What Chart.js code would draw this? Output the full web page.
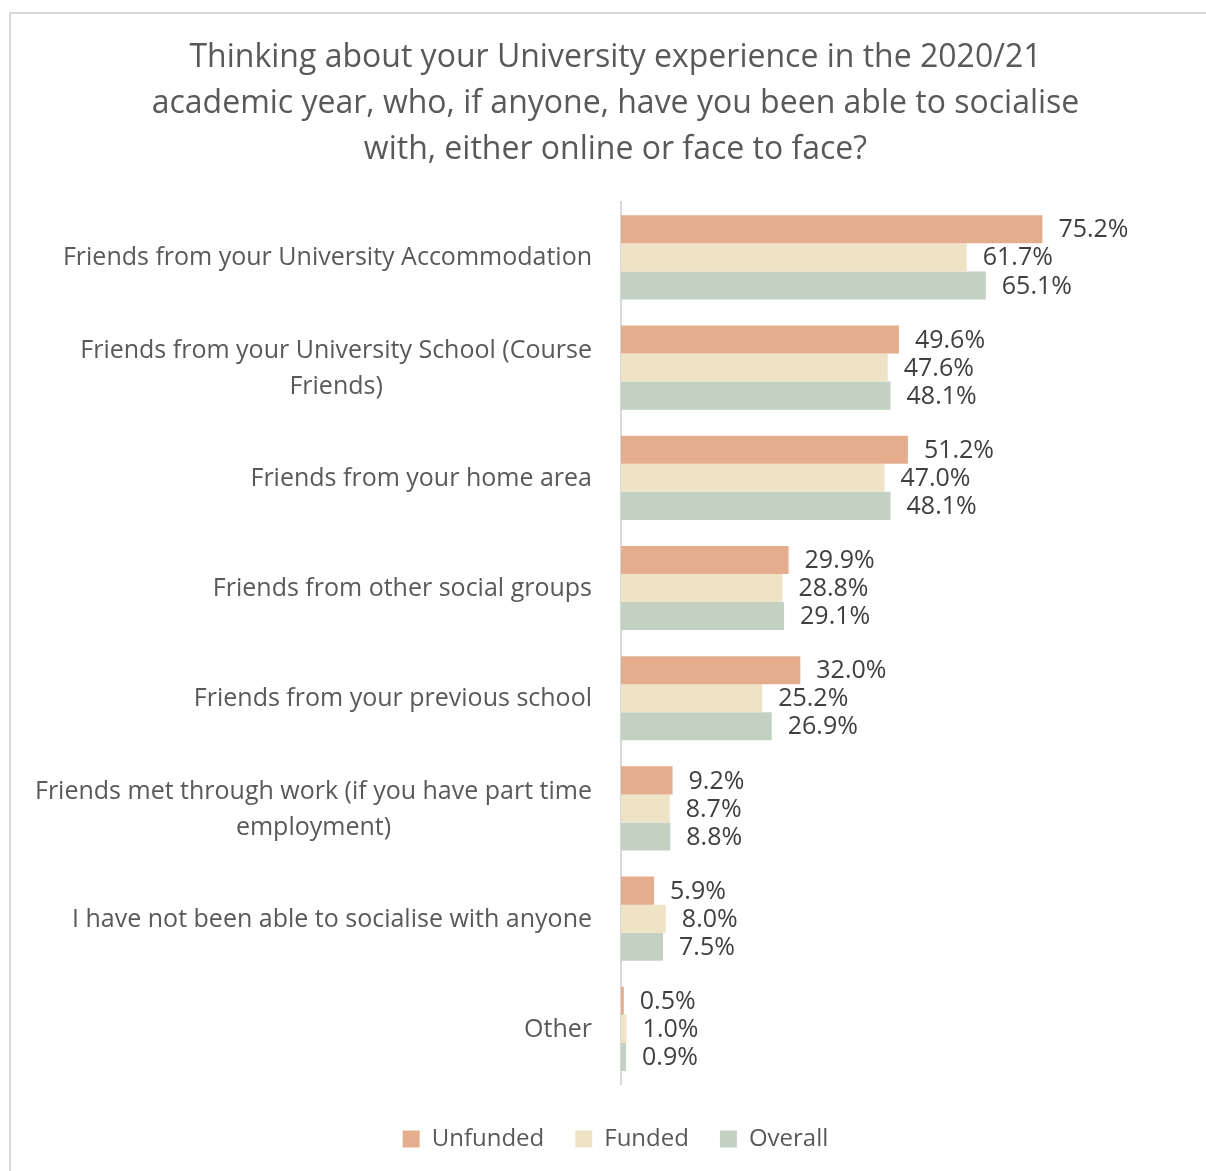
<!DOCTYPE html>
<html>
<head>
<meta charset="utf-8">
<script src="https://cdn.jsdelivr.net/npm/chart.js@4.4.0/dist/chart.umd.min.js"></script>
<style>
  html, body { margin: 0; padding: 0; background: #fff; }
  #frame {
    position: absolute; left: 9px; top: 12px; width: 1220px; height: 1200px;
    border: 2px solid #d9d9d9; box-sizing: border-box;
  }
  #wrap { position: absolute; left: 0; top: 0; width: 1206px; height: 1171px; }
</style>
</head>
<body>
<div id="frame"></div>
<div id="wrap"><canvas id="my-chart"></canvas></div>
<script>
// categories and series
const categories = [
  ["Friends from your University Accommodation"],
  ["Friends from your University School (Course", "Friends)"],
  ["Friends from your home area"],
  ["Friends from other social groups"],
  ["Friends from your previous school"],
  ["Friends met through work (if you have part time", "employment)"],
  ["I have not been able to socialise with anyone"],
  ["Other"],
];
const unfunded = [75.2, 49.6, 51.2, 29.9, 32.0, 9.2, 5.9, 0.5];
const funded = [61.7, 47.6, 47.0, 28.8, 25.2, 8.7, 8.0, 1.0];
const overall = [65.1, 48.1, 48.1, 29.1, 26.9, 8.8, 7.5, 0.9];
const seriesNames = ["Unfunded", "Funded", "Overall"];
const titleLines = [
  "Thinking about your University experience in the 2020/21",
  "academic year, who, if anyone, have you been able to socialise",
  "with, either online or face to face?",
];

const FONT = "'Open Sans', sans-serif";
const TEXT = "#595959";

// value labels at the end of each bar
const barLabels = {
  id: "barLabels",
  afterDatasetsDraw(chart) {
    const ctx = chart.ctx;
    ctx.save();
    ctx.font = "25px " + FONT;
    ctx.fillStyle = "#404040";
    ctx.textBaseline = "middle";
    ctx.textAlign = "left";
    chart.data.datasets.forEach((ds, i) => {
      chart.getDatasetMeta(i).data.forEach((bar, j) => {
        ctx.fillText(ds.data[j].toFixed(1) + "%", bar.x + 16, bar.y + 1);
      });
    });
    ctx.restore();
  },
};

// category labels: block right aligned, lines centred inside block
const catLabels = {
  id: "catLabels",
  afterDraw(chart) {
    const ctx = chart.ctx;
    const scale = chart.scales.y;
    ctx.save();
    ctx.font = "25px " + FONT;
    ctx.fillStyle = TEXT;
    ctx.textAlign = "center";
    ctx.textBaseline = "middle";
    const lh = 36;
    categories.forEach((lines, i) => {
      const y = scale.getPixelForTick(i) + 1;
      const w = Math.max(...lines.map((l) => ctx.measureText(l).width));
      const cx = scale.right - 29 - w / 2;
      lines.forEach((l, k) => {
        ctx.fillText(l, cx, y + (k - (lines.length - 1) / 2) * lh);
      });
    });
    ctx.restore();
  },
};

const element = document.querySelector("#my-chart");
let myChart = new Chart(element, {
  type: "bar",
  data: {
    labels: categories.map((c) => c.join(" ")),
    datasets: [
      { label: seriesNames[0], data: unfunded, backgroundColor: "#e3ad8e" },
      { label: seriesNames[1], data: funded, backgroundColor: "#efe3c6" },
      { label: seriesNames[2], data: overall, backgroundColor: "#c3d1c3" },
    ],
  },
  plugins: [barLabels, catLabels],
  options: {
    indexAxis: "y",
    responsive: true,
    maintainAspectRatio: false,
    animation: false,
    categoryPercentage: 0.764,
    barPercentage: 1,
    layout: { padding: { left: 30, right: 5, top: 0, bottom: 10 } },
    scales: {
      x: {
        min: 0,
        max: 103.5,
        grid: { display: false, drawTicks: false },
        border: { display: false },
        ticks: { display: false },
        afterFit(scale) {
          scale.height = 12;
        },
      },
      y: {
        grid: { display: false, drawTicks: false },
        border: { display: true, color: "#d9d9d9", width: 2 },
        ticks: { display: false },
        afterFit(scale) {
          scale.width = 591;
        },
      },
    },
    plugins: {
      title: {
        display: true,
        text: titleLines,
        color: TEXT,
        font: { family: FONT, size: 32, weight: "normal", lineHeight: 1.44 },
        padding: { top: 35, bottom: 29 },
      },
      legend: {
        position: "bottom",
        labels: {
          color: TEXT,
          font: { family: FONT, size: 24 },
          boxWidth: 17,
          boxHeight: 17,
          padding: 31,
        },
      },
      tooltip: { enabled: false },
    },
  },
});
</script>
</body>
</html>
